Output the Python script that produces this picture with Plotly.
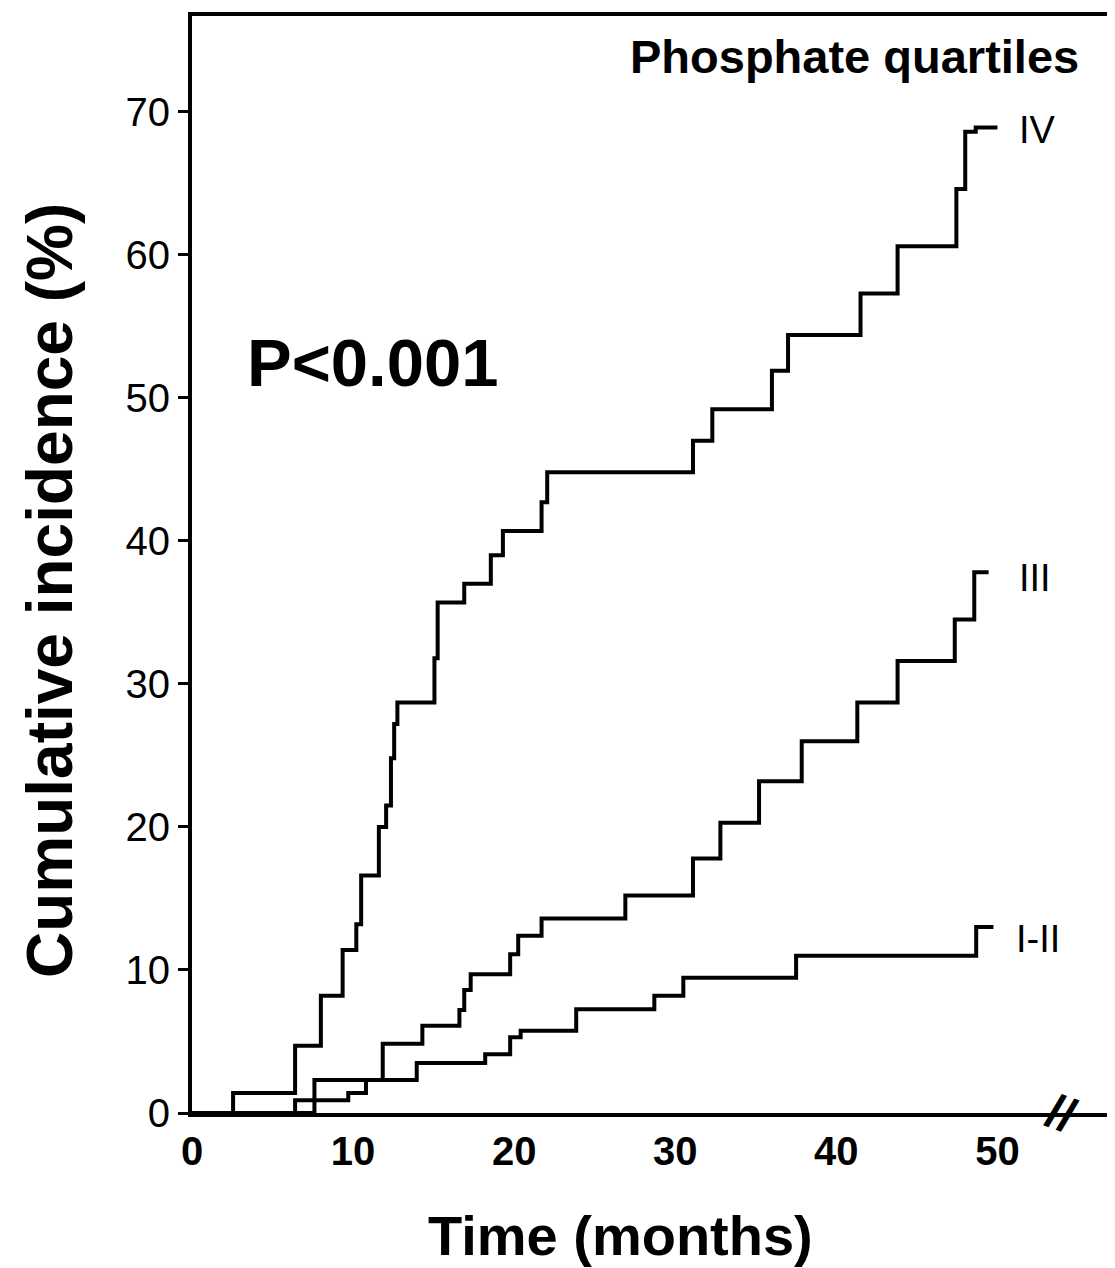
import plotly.graph_objects as go

# ---- data ----
iv_x = [0, 2.55, 6.4, 8.0, 9.35, 10.2, 10.5, 11.6, 12.05, 12.35, 12.55, 12.75, 15.05, 15.25,
        16.9, 18.55, 19.3, 21.7, 22.05, 31.1, 32.3, 36.0, 37.0, 41.5, 43.8, 47.45, 48.0, 48.65, 50.0]
iv_y = [0, 1.4, 4.7, 8.2, 11.4, 13.2, 16.6, 20.0, 21.5, 24.8, 27.2, 28.7, 31.8, 35.7,
        37.0, 39.0, 40.7, 42.7, 44.8, 47.0, 49.2, 51.9, 54.4, 57.3, 60.6, 64.6, 68.6, 68.9, 68.9]

iii_x = [0, 7.6, 11.84, 14.3, 16.6, 16.9, 17.3, 19.75, 20.25, 21.7, 26.9, 31.1, 32.8, 35.2,
         37.85, 41.3, 43.8, 47.35, 48.56, 49.45]
iii_y = [0, 2.3, 4.85, 6.1, 7.2, 8.6, 9.7, 11.1, 12.4, 13.6, 15.2, 17.8, 20.3, 23.2,
         26.0, 28.7, 31.6, 34.5, 37.8, 37.8]

i_ii_x = [0, 6.4, 9.7, 10.8, 13.95, 18.2, 19.75, 20.4, 23.85, 28.7, 30.5, 37.5, 48.68, 49.75]
i_ii_y = [0, 0.9, 1.4, 2.3, 3.5, 4.1, 5.3, 5.75, 7.25, 8.2, 9.45, 11.0, 13.0, 13.0]

series_names = ["IV", "III", "I-II"]
x_ticks = [0, 10, 20, 30, 40, 50]
y_ticks = [0, 10, 20, 30, 40, 50, 60, 70]

FONT = "Liberation Sans, Arial, sans-serif"

fig = go.Figure()
for name, xs, ys in zip(series_names, [iv_x, iii_x, i_ii_x], [iv_y, iii_y, i_ii_y]):
    fig.add_trace(go.Scatter(x=xs, y=ys, mode="lines", name=name,
                             line=dict(color="black", width=4, shape="hv")))

# curve labels
label_pos = {"IV": (51.2, 68.7), "III": (51.2, 37.4), "I-II": (51.0, 12.2)}
for name in series_names:
    lx, ly = label_pos[name]
    fig.add_annotation(x=lx, y=ly, text=name, showarrow=False, xanchor="left", yanchor="middle",
                       font=dict(family=FONT, size=38, color="black"))

fig.add_annotation(x=3.28, y=52.5, text="P<0.001", showarrow=False, xanchor="left", yanchor="middle",
                   font=dict(family=FONT, size=67, color="black", weight="bold"))
fig.add_annotation(x=55.2, y=73.9, text="Phosphate quartiles", showarrow=False, xanchor="right",
                   yanchor="middle", font=dict(family=FONT, size=47, color="black", weight="bold"))
# axis break mark
fig.add_annotation(x=54.0, y=0, text="//", showarrow=False, xanchor="center", yanchor="middle",
                   textangle=20, font=dict(family=FONT, size=48, color="black", weight="bold"))

# axis titles
fig.add_annotation(xref="paper", yref="paper", x=0.468, y=-0.112, text="Time (months)",
                   showarrow=False, xanchor="center", yanchor="middle",
                   font=dict(family=FONT, size=56, color="black", weight="bold"))
fig.add_annotation(xref="paper", yref="paper", x=-0.155, y=0.476, text="Cumulative incidence (%)",
                   showarrow=False, xanchor="center", yanchor="middle", textangle=-90, borderpad=0,
                   font=dict(family=FONT, size=64, color="black", weight="bold"))

axis_common = dict(showline=True, mirror=True, linecolor="black", linewidth=4, showgrid=False,
                   zeroline=False, tickcolor="black", tickwidth=3)

fig.update_xaxes(range=[0, 56.8], tickvals=x_ticks, ticktext=[str(v) for v in x_ticks],
                 ticks="", tickfont=dict(family=FONT, size=40, color="black", weight="bold"),
                 **axis_common)
fig.update_yaxes(range=[0, 76.7], tickvals=y_ticks, ticktext=[str(v) for v in y_ticks],
                 ticks="outside", ticklen=10,
                 tickfont=dict(family=FONT, size=40, color="black"),
                 **axis_common)

# page body has an 8px margin, so the figure is sized/positioned to compensate
fig.update_layout(width=1107, height=1260, margin=dict(l=184, r=5, t=4, b=155),
                  paper_bgcolor="white", plot_bgcolor="white", showlegend=False)

fig.write_html("out.html")
